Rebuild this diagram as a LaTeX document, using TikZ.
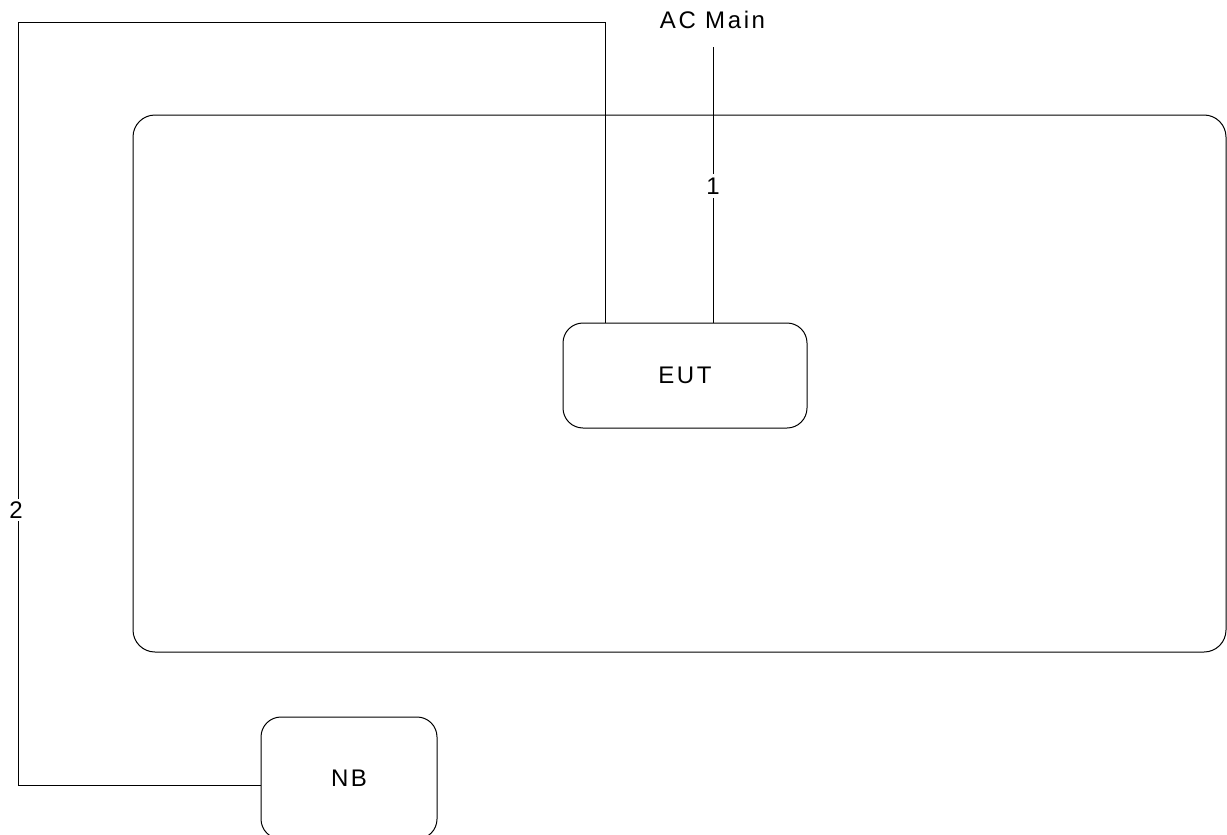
\documentclass[tikz,border=0pt]{standalone}
\usepackage{fontspec}
\setmainfont{Liberation Sans}[LetterSpace=11]
\begin{document}
\begin{tikzpicture}[x=1pt,y=-1pt,
  box/.style={draw, line width=1pt, rounded corners=20pt},
  wire/.style={draw, line width=1pt},
  lbl/.style={font=\fontsize{24}{28}\selectfont, inner sep=0pt},
  numlbl/.style={font=\fontsize{24}{28}\selectfont, fill=white, inner sep=4pt}]
\useasboundingbox (0,0) rectangle (1227,835);
\begin{scope}
\clip (0,0) rectangle (1227,835);
\draw[box, rounded corners=22pt] (133,115) rectangle (1226,652);
\node[box, minimum width=244pt, minimum height=105pt, lbl] (eut) at (685,375.5) {EUT};
\node[box, minimum width=176pt, minimum height=122pt, lbl] (nb) at (349,778) {NB};
\node[lbl] (ac) at (712.5,20) {AC Main};
\coordinate (acend) at (713,47);
\coordinate (c1) at (605,22);
\coordinate (c2) at (18,22);
\coordinate (c3) at (18,785);
\draw[wire] (acend) -- (eut.north -| acend) node[pos=0.505, numlbl] {1};
\draw[wire] (eut.north -| c1) -- (c1) -- (c2) -- (c3) -- (nb.west |- c3);
\node[numlbl, inner sep=3pt] (n2) at (16,510) {2};
\end{scope}
\end{tikzpicture}
\end{document}
